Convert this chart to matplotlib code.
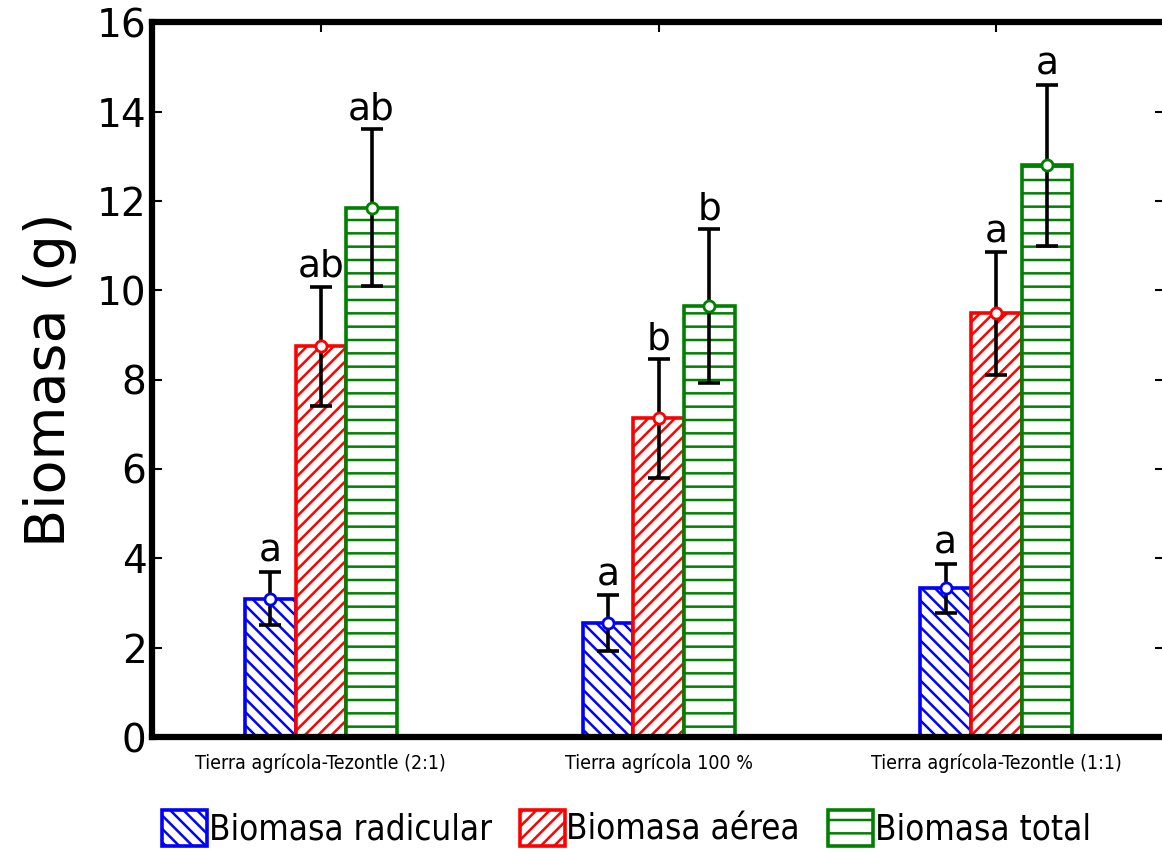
import numpy as np
import matplotlib
matplotlib.use('Agg')
import matplotlib.pyplot as plt
from matplotlib import font_manager

# data
groups = ['Tierra agrícola-Tezontle (2:1)', 'Tierra agrícola 100 %', 'Tierra agrícola-Tezontle (1:1)']
series = ['Biomasa radicular', 'Biomasa aérea', 'Biomasa total']
radicular = [3.1, 2.55, 3.33]
aerea = [8.75, 7.13, 9.48]
total = [11.85, 9.65, 12.8]
err_radicular = [0.6, 0.62, 0.55]
err_aerea = [1.33, 1.33, 1.37]
err_total = [1.75, 1.72, 1.8]
let_radicular = ['a', 'a', 'a']
let_aerea = ['ab', 'b', 'a']
let_total = ['ab', 'b', 'a']

values = [radicular, aerea, total]
errors = [err_radicular, err_aerea, err_total]
letters = [let_radicular, let_aerea, let_total]
colors = ['#0000ff', '#ff0000', '#008000']
hatches = ['\\\\', '//', '-']

# narrow font for tick labels / legend if available
narrow = {'family': 'DejaVu Sans'}
names = [(f.name, f.stretch) for f in font_manager.fontManager.ttflist]
if ('DejaVu Sans', 'condensed') in names:
    narrow = {'family': 'DejaVu Sans', 'stretch': 'condensed'}
elif any(n == 'Liberation Sans Narrow' for n, s in names):
    narrow = {'family': 'Liberation Sans Narrow'}

# drawn at 80 dpi so the hatching comes out a bit denser; sizes scaled by S
DPI = 80
S = 100 / DPI
plt.rcParams['hatch.linewidth'] = 1.8 * S

fig = plt.figure(figsize=(1162 / DPI, 854 / DPI), dpi=DPI)
ax = fig.add_axes([0.1308, 0.137, 0.872, 0.837])

x = np.arange(len(groups))
w = 0.15
for i in range(3):
    pos = x + (i - 1) * w
    ax.bar(pos, values[i], w, facecolor='white', edgecolor=colors[i],
           hatch=hatches[i], linewidth=2.6 * S, label=series[i], zorder=2)
    ax.errorbar(pos, values[i], yerr=errors[i], fmt='none', ecolor='black',
                elinewidth=2.6 * S, capsize=8 * S, capthick=2.6 * S, zorder=3)
    ax.plot(pos, values[i], 'o', mfc='white', mec=colors[i], mew=2 * S,
            ms=8 * S, zorder=4)
    for p, v, e, t in zip(pos, values[i], errors[i], letters[i]):
        ax.text(p, v + e + 0.04, t, ha='center', va='bottom', fontsize=27 * S)

ax.set_xlim(-0.5, 2.5)
ax.set_ylim(0, 16)
ax.set_yticks(np.arange(0, 17, 2))
ax.set_xticks(x)
ax.set_xticklabels(groups, fontsize=14 * S, **narrow)
ax.tick_params(axis='y', labelsize=28 * S, direction='in', length=7 * S,
               width=1.5 * S, right=True, pad=4 * S)
ax.tick_params(axis='x', direction='in', length=7 * S, width=1.5 * S,
               top=True, pad=12 * S)
ax.set_ylabel('Biomasa (g)', fontsize=40 * S, labelpad=14 * S)
for s in ax.spines.values():
    s.set_linewidth(4.5 * S)

fig.legend(loc='center', bbox_to_anchor=(0.539, 0.03), ncol=3, frameon=False,
           prop=dict(size=25 * S, **narrow), handlelength=1.3, handleheight=1.2,
           handletextpad=0.05, columnspacing=0.8)

fig.savefig('out.png', dpi=DPI)
